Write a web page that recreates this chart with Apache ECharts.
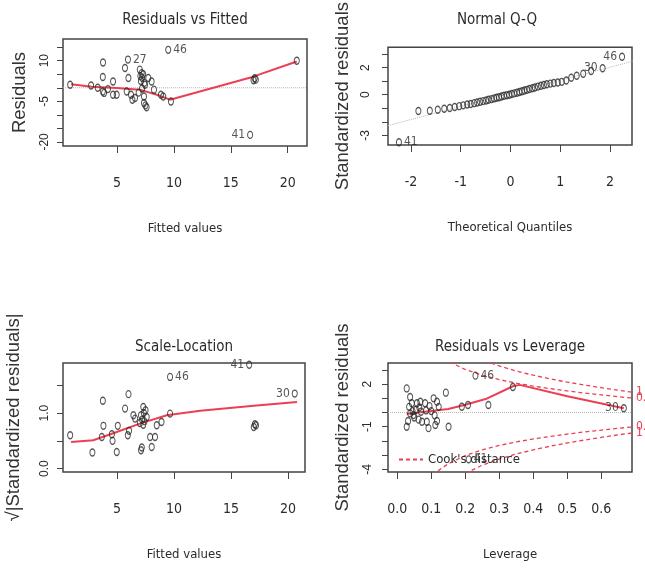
<!DOCTYPE html>
<html>
<head>
<meta charset="utf-8">
<script src="https://cdn.jsdelivr.net/npm/echarts@6/dist/echarts.min.js"></script>
<style>
  html, body { margin: 0; padding: 0; background: #fff; }
  #diag { width: 645px; height: 569px; }
</style>
</head>
<body>
<div id="diag"></div>
<script>
// --- Residuals vs Fitted ---
const rfFitted = [0.88, 2.72, 3.3, 3.77, 3.75, 3.75, 3.86, 4.2, 4.65, 4.65, 4.97, 5.7, 5.96, 6.0, 5.85, 6.23, 6.35, 6.58, 6.9,
  7.0, 7.05, 7.17, 7.3, 7.2, 7.1, 7.46, 7.4, 7.2, 7.37, 7.37, 7.5, 7.6, 7.75, 8.04, 8.25, 8.86, 9.06, 9.74, 9.5,
  16.7, 17.0, 17.1, 17.2, 20.8];
const rfResid = [1.1, 0.85, 0.0, 9.3, 4.0, -1.4, -1.9, -0.5, 2.3, -2.6, -2.6, 7.3, 10.4, 3.6, -1.4, -2.6, -4.4, -3.8, -1.8,
  6.7, 4.3, 5.4, 5.0, 3.7, 2.5, 1.1, 1.8, -0.3, -3.2, -5.6, -6.5, -7.2, 3.6, 2.3, -0.7, -2.6, -3.2, -5.1, 14.0,
  -17.4, 2.8, 3.5, 3.0, 10.0];
const rfIds = {12: '27', 38: '46', 39: '41'};
const rfSmoothX = [0.96, 2.78, 4.97, 7.0, 8.5, 9.65, 16.9, 20.8];
const rfSmoothY = [1.3, 0.4, -0.1, -0.7, -2.6, -4.4, 4.0, 9.7];

// --- Normal Q-Q ---
const qqTheo = [-2.24, -1.85, -1.62, -1.46, -1.33, -1.22, -1.12, -1.03, -0.95, -0.87, -0.80, -0.73, -0.67, -0.61, -0.55,
  -0.49, -0.44, -0.38, -0.33, -0.28, -0.23, -0.18, -0.13, -0.075, -0.025, 0.025, 0.075, 0.13, 0.18, 0.23, 0.28, 0.33,
  0.38, 0.44, 0.49, 0.55, 0.61, 0.67, 0.73, 0.80, 0.87, 0.95, 1.03, 1.12, 1.22, 1.33, 1.46, 1.62, 1.85, 2.24];
const qqStd = [-3.50, -1.20, -1.18, -1.10, -1.03, -0.97, -0.90, -0.84, -0.78, -0.72, -0.68, -0.62, -0.57, -0.52, -0.47,
  -0.42, -0.37, -0.32, -0.27, -0.22, -0.18, -0.13, -0.08, -0.04, 0.00, 0.05, 0.10, 0.15, 0.20, 0.26, 0.31, 0.36,
  0.42, 0.48, 0.53, 0.60, 0.66, 0.72, 0.77, 0.82, 0.86, 0.90, 0.95, 1.05, 1.25, 1.40, 1.55, 1.75, 1.95, 2.80];
const qqIds = {0: '41', 48: '30', 49: '46'};
const qqLineX = [-2.5, 2.5];
const qqLineY = [-2.31, 2.51];

// --- Scale-Location ---
const slFitted = [0.88, 2.83, 3.75, 3.8, 3.66, 4.54, 4.6, 4.97, 5.06, 5.7, 6.0, 5.94, 6.05, 6.43, 6.58, 7.1, 7.17, 7.3,
  7.5, 7.1, 7.2, 7.4, 7.3, 7.0, 7.6, 7.35, 7.9, 8.04, 8.33, 8.48, 8.9, 9.65, 9.65, 16.6, 17.0, 17.1, 17.2, 20.6];
const slRoot = [0.60, 0.29, 1.22, 0.77, 0.57, 0.62, 0.50, 0.30, 0.77, 1.08, 1.34, 0.60, 0.68, 0.96, 0.90, 0.33, 0.38, 1.11,
  1.05, 0.96, 0.88, 0.85, 0.79, 0.82, 0.93, 1.0, 0.57, 0.39, 0.57, 0.78, 0.84, 0.99, 1.65, 1.87, 0.75, 0.80, 0.78, 1.35];
const slIds = {32: '46', 33: '41', 37: '30'};
const slSmoothX = [0.96, 2.9, 4.97, 7.0, 9.36, 12.3, 17.0, 20.8];
const slSmoothY = [0.48, 0.51, 0.66, 0.81, 0.96, 1.04, 1.13, 1.2];

// --- Residuals vs Leverage ---
const lvLev = [0.028, 0.038, 0.043, 0.058, 0.068, 0.082, 0.107, 0.117, 0.122, 0.143, 0.038, 0.048, 0.063, 0.073, 0.087,
  0.028, 0.032, 0.092, 0.112, 0.117, 0.151, 0.045, 0.055, 0.07, 0.085, 0.1, 0.035, 0.05, 0.095, 0.11, 0.065,
  0.19, 0.208, 0.268, 0.23, 0.34, 0.21, 0.666];
const lvStd = [1.7, 1.1, 0.65, 0.65, 0.76, 0.65, 1.0, 0.76, 0.4, 1.4, -0.06, -0.18, -0.5, -0.65, -0.65,
  -1.0, -0.6, -1.1, -0.88, -0.6, -1.0, 0.1, 0.2, 0.05, 0.15, 0.1, 0.4, -0.35, 0.45, -0.2, 0.35,
  0.41, 0.53, 0.53, 2.6, 1.8, -3.3, 0.3];
const lvIds = {34: '46', 36: '41', 37: '30'};
const lvSmoothX = [0.028, 0.06, 0.1, 0.15, 0.2, 0.26, 0.34, 0.36, 0.5, 0.666];
const lvSmoothY = [-0.1, 0.0, 0.1, 0.25, 0.55, 0.95, 1.85, 1.95, 1.15, 0.3];
const cookH = [0.12, 0.15, 0.2, 0.25, 0.3, 0.35, 0.4, 0.45, 0.5, 0.55, 0.6, 0.65, 0.69];
const cookHalf = [4.11, 3.61, 3.03, 2.63, 2.32, 2.07, 1.86, 1.68, 1.52, 1.37, 1.24, 1.11, 1.02];
const cookOne = [5.81, 5.11, 4.29, 3.71, 3.28, 2.92, 2.63, 2.37, 2.14, 1.94, 1.75, 1.57, 1.44];

const NARROW = '"Liberation Sans Narrow", "DejaVu Sans Condensed", "Liberation Sans", sans-serif';
const PLAIN = '"Liberation Sans", Arial, sans-serif';
const INK = '#2b2b2b';
const RED = '#ec3f52';

const zip = (xs, ys) => xs.map((x, i) => [x, ys[i]]);

function pointsSeries(gi, xs, ys, ids, mid) {
  const data = xs.map((x, i) => {
    const item = {value: [x, ys[i]]};
    if (ids[i]) {
      item.label = {show: true, formatter: ids[i], position: x < mid ? 'right' : 'left'};
    }
    return item;
  });
  return {
    type: 'scatter', xAxisIndex: gi, yAxisIndex: gi, data: data,
    symbol: 'circle', symbolSize: [5, 7],
    itemStyle: {color: 'rgba(0,0,0,0)', borderColor: '#2a2a2a', borderWidth: 1.2},
    label: {fontFamily: NARROW, fontSize: 12, color: INK, distance: 2},
    silent: true, z: 3
  };
}

function redLine(gi, xs, ys) {
  return {
    type: 'line', xAxisIndex: gi, yAxisIndex: gi, data: zip(xs, ys),
    symbol: 'none', clip: true, silent: true,
    lineStyle: {color: RED, width: 2}, z: 2
  };
}

function zeroLine(gi, xmin, xmax) {
  return {
    type: 'line', xAxisIndex: gi, yAxisIndex: gi, data: [[xmin, 0], [xmax, 0]],
    symbol: 'none', silent: true,
    lineStyle: {color: '#b5b5b5', width: 1, type: 'dotted'}, z: 1
  };
}

function cookLine(ys, sign, tag) {
  return {
    name: "Cook's distance", type: 'line', xAxisIndex: 3, yAxisIndex: 3,
    data: cookH.map((h, i) => [h, sign * ys[i]]),
    symbol: 'none', clip: true, silent: true,
    itemStyle: {color: 'rgba(0,0,0,0)'},
    lineStyle: {color: RED, width: 1.3, type: [4, 3]},
    endLabel: {show: true, formatter: tag, color: RED, fontFamily: NARROW, fontSize: 12, distance: 4},
    z: 2
  };
}

function xAxisFor(gi, min, max, ticks, name, fmt) {
  return {
    type: 'value', gridIndex: gi, min: min, max: max,
    name: name, nameLocation: 'middle', nameGap: 76,
    nameTextStyle: {fontFamily: NARROW, fontSize: 13, color: INK},
    axisLine: {show: false, onZero: false},
    axisTick: {show: true, length: 7, customValues: ticks, lineStyle: {color: '#444'}},
    axisLabel: {customValues: ticks, margin: 30, fontFamily: NARROW, fontSize: 14, color: INK, formatter: fmt},
    splitLine: {show: false}
  };
}

function yAxisFor(gi, min, max, ticks, labels, name, gap, margin, fmt) {
  return {
    type: 'value', gridIndex: gi, min: min, max: max,
    name: name, nameLocation: 'middle', nameGap: gap,
    nameTextStyle: {fontFamily: PLAIN, fontSize: 18.5, color: '#333'},
    axisLine: {show: false, onZero: false},
    axisTick: {show: true, length: 6, customValues: ticks, lineStyle: {color: '#444'}},
    axisLabel: {customValues: labels, rotate: 90, margin: margin, fontFamily: PLAIN, fontSize: 12, color: INK, formatter: fmt},
    splitLine: {show: false}
  };
}

const titleStyle = {fontFamily: NARROW, fontSize: 15, fontWeight: 'normal', color: INK};
const boxStyle = {show: true, borderColor: '#444', borderWidth: 1.5, backgroundColor: '#fff'};
const oneDec = v => v.toFixed(1);

const option = {
  animation: false,
  backgroundColor: '#fff',
  title: [
    {text: 'Residuals vs Fitted', left: 185, top: 13, textAlign: 'center', padding: 0, textStyle: titleStyle},
    {text: 'Normal Q-Q', left: 497, top: 13, textAlign: 'center', padding: 0, textStyle: titleStyle},
    {text: 'Scale-Location', left: 184, top: 340, textAlign: 'center', padding: 0, textStyle: titleStyle},
    {text: 'Residuals vs Leverage', left: 510, top: 340, textAlign: 'center', padding: 0, textStyle: titleStyle}
  ],
  legend: {
    data: ["Cook's distance"], left: 393, top: 448, selectedMode: false,
    itemWidth: 24, itemHeight: 10, itemGap: 6,
    textStyle: {fontFamily: NARROW, fontSize: 13, color: INK}
  },
  grid: [
    Object.assign({left: 63, top: 39, width: 244, height: 107}, boxStyle),
    Object.assign({left: 388, top: 39, width: 244, height: 106}, boxStyle),
    Object.assign({left: 63, top: 363, width: 242, height: 109}, boxStyle),
    Object.assign({left: 388, top: 363, width: 244, height: 109}, boxStyle)
  ],
  xAxis: [
    xAxisFor(0, 0.25, 21.7, [5, 10, 15, 20], 'Fitted values'),
    xAxisFor(1, -2.46, 2.44, [-2, -1, 0, 1, 2], 'Theoretical Quantiles'),
    xAxisFor(2, 0.25, 21.5, [5, 10, 15, 20], 'Fitted values'),
    xAxisFor(3, -0.027, 0.69, [0, 0.1, 0.2, 0.3, 0.4, 0.5, 0.6], 'Leverage', oneDec)
  ],
  yAxis: [
    yAxisFor(0, -21.5, 18, [-20, -15, -10, -5, 0, 5, 10, 15], [-20, -5, 10], 'Residuals', 34, 12),
    yAxisFor(1, -3.7, 3.5, [-3, -2, -1, 0, 1, 2, 3], [-3, 0, 2], 'Standardized residuals', 36, 16),
    yAxisFor(2, -0.06, 1.9, [0, 0.5, 1, 1.5], [0, 1], '\u221A|Standardized residuals|', 40, 12, oneDec),
    yAxisFor(3, -4.19, 3.49, [-4, -3, -2, -1, 0, 1, 2, 3], [-4, -1, 2], 'Standardized residuals', 36, 14)
  ],
  series: [
    zeroLine(0, 0.25, 21.7),
    redLine(0, rfSmoothX, rfSmoothY),
    pointsSeries(0, rfFitted, rfResid, rfIds, 11),

    {
      type: 'line', xAxisIndex: 1, yAxisIndex: 1, data: zip(qqLineX, qqLineY),
      symbol: 'none', clip: true, silent: true,
      lineStyle: {color: '#b5b5b5', width: 1, type: 'dotted'}, z: 1
    },
    pointsSeries(1, qqTheo, qqStd, qqIds, 0),

    redLine(2, slSmoothX, slSmoothY),
    pointsSeries(2, slFitted, slRoot, slIds, 11),

    zeroLine(3, -0.027, 0.69),
    cookLine(cookHalf, 1, '0.5'),
    cookLine(cookOne, 1, '1'),
    cookLine(cookHalf, -1, '0.5'),
    cookLine(cookOne, -1, '1'),
    redLine(3, lvSmoothX, lvSmoothY),
    pointsSeries(3, lvLev, lvStd, lvIds, 0.35)
  ]
};

const myChart = echarts.init(document.getElementById('diag'));
myChart.setOption(option, true);
</script>
</body>
</html>
